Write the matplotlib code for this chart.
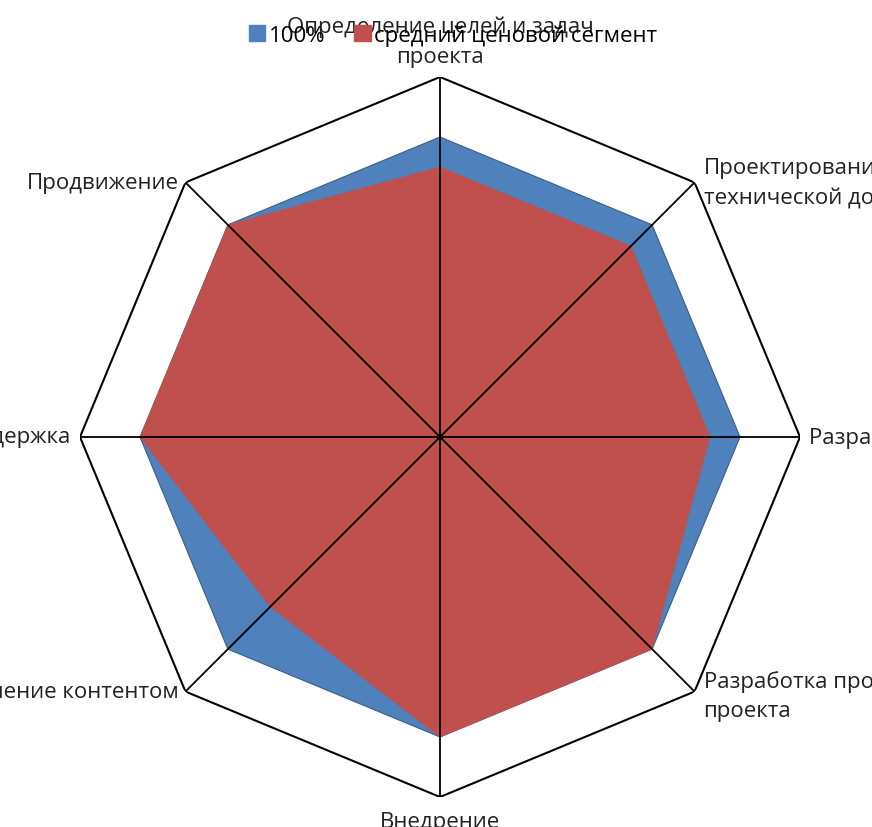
import numpy as np
import matplotlib
matplotlib.use("Agg")
import matplotlib.pyplot as plt
from matplotlib.patches import Patch

plt.rcParams['font.family'] = ['Open Sans', 'DejaVu Sans']

categories = [
    "Определение целей и задач\nпроекта",
    "Проектирование\nтехнической документации",
    "Разработка дизайна",
    "Разработка прототипа\nпроекта",
    "Внедрение",
    "Наполнение контентом",
    "Поддержка",
    "Продвижение",
]
series_names = ["100%", "средний ценовой сегмент"]
full_values = [1.0, 1.0, 1.0, 1.0, 1.0, 1.0, 1.0, 1.0]
mid_values = [0.9, 0.9, 0.9, 1.0, 1.0, 0.8, 1.0, 1.0]
axis_max = 1.2

blue = "#4F81BD"
red = "#C0504D"

fig = plt.figure(figsize=(8.72, 8.28), dpi=100)
cx, cy, R = 440, 438, 360
W, H = 872, 828
ax = fig.add_axes([(cx - R) / W, (H - cy - R) / H, 2 * R / W, 2 * R / H], projection='polar')
ax.set_theta_zero_location('N')
ax.set_theta_direction(-1)
ax.set_ylim(0, axis_max)
ax.grid(False)
ax.spines['polar'].set_visible(False)
ax.set_xticks([])
ax.set_yticks([])
ax.patch.set_alpha(0)

n = len(categories)
theta = np.arange(n) * 2 * np.pi / n
tc = np.append(theta, theta[0])

ax.fill(tc, np.append(full_values, full_values[0]), color=blue, edgecolor="#3a5f8a", linewidth=0.8, zorder=2)
ax.fill(tc, np.append(mid_values, mid_values[0]), color=red, edgecolor=red, linewidth=0.5, zorder=3)

# outer octagon
ax.plot(tc, [axis_max] * (n + 1), color='black', linewidth=1.5, zorder=4)
# spokes
for t in theta:
    ax.plot([t, t], [0, axis_max], color='black', linewidth=1.3, zorder=5)

# labels
offsets = [
    (0, 10, 'center', 'bottom'),
    (9, 0, 'left', 'center'),
    (9, 0, 'left', 'center'),
    (9, -4, 'left', 'center'),
    (0, -14, 'center', 'top'),
    (-7, 0, 'right', 'center'),
    (-9, 0, 'right', 'center'),
    (-7, 0, 'right', 'center'),
]
for t, lab, (dx, dy, ha, va) in zip(theta, categories, offsets):
    ax.annotate(lab, xy=(t, axis_max), xytext=(dx, dy), textcoords='offset pixels',
                ha=ha, va=va, fontsize=16, color='#222222', linespacing=1.55,
                annotation_clip=False, zorder=6)

handles = [Patch(facecolor=blue, edgecolor=blue), Patch(facecolor=red, edgecolor=red)]
fig.legend(handles, series_names, loc='center', bbox_to_anchor=(453 / W, 1 - 36 / H),
           ncol=2, frameon=False, fontsize=16, handlelength=0.75, handleheight=0.75,
           handletextpad=0.15, columnspacing=1.3, borderpad=0)

fig.savefig("out.png", dpi=100)
